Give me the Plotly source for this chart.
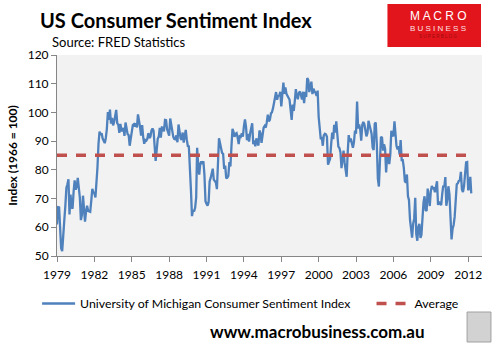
import pandas as pd
import plotly.graph_objects as go

start_month = "1979-12-01"
sentiment = [
    61.0,
    67.0, 66.9, 56.5, 52.7, 51.7, 58.7, 62.3, 67.3, 73.7, 75.0, 76.7, 64.5,
    71.4, 66.9, 66.5, 72.4, 76.3, 73.1, 74.1, 77.2, 73.1, 70.3, 62.5, 64.3,
    71.0, 66.5, 62.0, 65.5, 67.5, 65.7, 65.4, 65.4, 69.3, 73.4, 72.1, 71.9,
    70.4, 74.6, 80.8, 89.1, 93.3, 92.2, 92.8, 90.9, 89.9, 89.3, 91.1, 94.2,
    100.1, 97.4, 101.0, 96.1, 98.1, 95.5, 96.6, 99.1, 100.9, 96.3, 95.7, 92.9,
    96.0, 93.7, 93.7, 94.6, 91.8, 96.5, 94.0, 92.4, 92.1, 88.4, 90.9, 93.9,
    95.6, 95.9, 95.1, 96.2, 94.8, 99.3, 97.7, 94.9, 91.9, 95.6, 91.4, 89.1,
    90.4, 90.2, 90.8, 92.8, 91.1, 91.5, 93.7, 94.4, 93.6, 89.3, 83.1, 86.8,
    90.8, 91.6, 94.6, 91.2, 94.8, 94.7, 93.4, 97.4, 97.3, 94.1, 93.0, 91.9,
    97.9, 95.4, 94.3, 91.5, 90.7, 90.6, 92.0, 89.6, 95.8, 93.9, 90.9, 90.5,
    93.0, 89.5, 91.3, 93.9, 90.6, 88.3, 88.2, 76.4, 72.8, 63.9, 66.0, 65.5,
    66.8, 70.4, 87.7, 81.8, 78.3, 82.1, 82.9, 82.0, 83.0, 78.3, 69.1, 68.2,
    67.5, 68.8, 76.0, 77.2, 79.2, 80.4, 76.6, 76.1, 75.6, 73.3, 85.3, 91.0,
    89.3, 86.6, 85.9, 85.6, 80.3, 81.5, 77.0, 77.3, 77.9, 82.7, 81.2, 88.2,
    94.3, 93.2, 91.5, 92.6, 92.8, 91.2, 89.0, 91.7, 91.5, 92.7, 91.6, 95.1,
    97.6, 95.1, 90.3, 92.5, 89.8, 92.7, 94.4, 96.2, 88.9, 90.2, 88.2, 91.0,
    89.3, 88.5, 93.7, 92.7, 89.4, 92.4, 94.7, 95.3, 94.7, 96.5, 99.2, 96.9,
    97.4, 99.7, 100.0, 101.4, 103.2, 104.5, 107.1, 104.4, 106.0, 105.6, 107.2, 102.1,
    106.6, 110.4, 106.5, 108.7, 106.5, 105.6, 105.2, 104.4, 100.9, 97.4, 102.7, 100.5,
    103.9, 108.1, 105.7, 104.6, 106.8, 107.3, 106.0, 104.5, 107.2, 103.2, 107.2, 105.4,
    112.0, 111.3, 107.1, 109.2, 110.7, 106.4, 108.3, 107.3, 106.8, 105.8, 107.6, 98.4,
    94.7, 90.6, 91.5, 88.4, 92.0, 92.6, 92.4, 91.5, 81.8, 82.7, 83.9, 88.8,
    93.0, 90.7, 95.7, 93.0, 96.9, 92.4, 88.1, 87.6, 86.1, 80.6, 84.2, 86.7,
    82.4, 79.9, 77.6, 86.0, 92.1, 89.7, 90.9, 89.3, 87.7, 89.6, 93.7, 92.6,
    103.8, 94.4, 95.8, 94.2, 90.2, 95.6, 96.7, 95.9, 94.2, 91.7, 92.8, 97.1,
    95.5, 94.1, 92.6, 87.7, 86.9, 96.0, 96.5, 89.1, 76.9, 74.2, 81.6, 91.5,
    91.2, 86.7, 88.9, 87.4, 79.1, 84.9, 84.7, 82.0, 85.4, 93.6, 92.1, 91.7,
    96.9, 91.3, 88.4, 87.1, 88.3, 85.3, 90.4, 83.4, 83.4, 80.9, 76.1, 75.5,
    78.4, 70.8, 69.5, 62.6, 59.8, 56.4, 61.2, 63.0, 70.3, 57.6, 55.3, 60.1,
    61.2, 56.3, 57.3, 65.1, 68.7, 70.8, 66.0, 65.7, 73.5, 70.6, 67.4, 72.5,
    74.4, 73.6, 73.6, 72.2, 73.6, 76.0, 67.8, 68.9, 68.2, 67.7, 71.6, 74.5,
    74.2, 77.5, 67.5, 69.8, 74.3, 71.5, 63.7, 55.8, 59.5, 60.8, 63.7, 69.9,
    75.0, 75.3, 76.2, 76.4, 79.3, 73.2, 72.3, 74.3, 78.3, 82.6, 82.7, 72.9,
    73.8, 77.6, 71.8,
]
average_value = 85.1
tick_years = [1979, 1982, 1985, 1988, 1991, 1994, 1997, 2000, 2003, 2006, 2009, 2012]

dates = pd.date_range(start_month, periods=len(sentiment), freq="MS")
tick_vals = [pd.Timestamp(f"{y}-12-01") for y in tick_years]
tick_text = [str(y) for y in tick_years]

FONT = "Lato"
W, H = 495, 350
ML, MR, MT, MB = 55, 13, 55, 94
pw, ph = W - ML - MR, H - MT - MB


def px2paper(x, y):
    return (x - ML) / pw, (H - MB - y) / ph


fig = go.Figure()
fig.add_trace(go.Scatter(
    x=dates, y=sentiment, mode="lines",
    name="University of Michigan Consumer Sentiment Index",
    line=dict(color="#4F81BD", width=2.3), legend="legend",
))
fig.add_trace(go.Scatter(
    x=[dates[0], dates[-1]], y=[average_value, average_value], mode="lines",
    name="Average",
    line=dict(color="#C0504D", width=3.5, dash="10px,9px"), legend="legend2",
))

lx1, ly = px2paper(35, 289)
lx2, _ = px2paper(371, 289)
leg_common = dict(orientation="h", xanchor="left", y=ly, yanchor="top",
                  font=dict(size=12.3), itemwidth=33, bgcolor="rgba(0,0,0,0)")
fig.update_layout(
    width=W, height=H,
    margin=dict(l=ML, r=MR, t=MT, b=MB),
    paper_bgcolor="white", plot_bgcolor="#F2F2F2",
    font=dict(family=FONT, size=12, color="black"),
    showlegend=True,
    legend=dict(x=lx1, **leg_common),
    legend2=dict(x=lx2, **leg_common),
)
fig.update_xaxes(
    range=[pd.Timestamp("1979-12-01"), pd.Timestamp("2014-01-10")],
    tickmode="array", tickvals=tick_vals, ticktext=tick_text,
    showgrid=False, zeroline=False, showline=True, linecolor="#868686", linewidth=1,
    ticks="outside", ticklen=5, tickcolor="#868686", tickfont=dict(size=12),
    ticklabelstandoff=3,
)
fig.update_yaxes(
    range=[50, 120], dtick=10, tick0=50,
    showgrid=False, zeroline=False, showline=True, linecolor="#868686", linewidth=1,
    ticks="outside", ticklen=5, tickcolor="#868686", tickfont=dict(size=12),
    title=dict(text="<b>Index (1966 = 100)</b>", font=dict(size=12), standoff=7),
)

texts = [
    ("<b>US Consumer Sentiment Index</b>", 36, 20, 20),
    ("Source: FRED Statistics", 48, 42, 13),
    ("<b>www.macrobusiness.com.au</b>", 207, 331, 17),
]
for txt, x, y, sz in texts:
    xp, yp = px2paper(x, y)
    fig.add_annotation(text=txt, x=xp, y=yp, xref="paper", yref="paper",
                       showarrow=False, xanchor="left", yanchor="middle",
                       font=dict(size=sz))

# Logo block
x0, y0 = px2paper(387, 4)
x1, y1 = px2paper(481, 47)
fig.add_shape(type="rect", xref="paper", yref="paper", x0=x0, y0=y1, x1=x1, y1=y0,
              fillcolor="#E3151C", line=dict(width=0), layer="above")
for txt, yy, sz, col in [("M A C R O", 16, 12, "white"),
                         ("B U S I N E S S", 28, 8, "#FBE3E4"),
                         ("S U P E R B L O G", 37, 4.5, "#9A0A0F")]:
    xx, yp = px2paper(438, yy)
    fig.add_annotation(text=txt, x=xx, y=yp, xref="paper", yref="paper", showarrow=False,
                       xanchor="center", yanchor="middle",
                       font=dict(size=sz, color=col, family="Liberation Sans"))
# wolf image placeholder
wx0, wy0 = px2paper(467, 312)
wx1, wy1 = px2paper(491, 342)
fig.add_shape(type="rect", xref="paper", yref="paper", x0=wx0, y0=wy1, x1=wx1, y1=wy0,
              fillcolor="#D2D2D2", line=dict(width=1, color="#A0A0A0"))

fig.write_html("out.html")
